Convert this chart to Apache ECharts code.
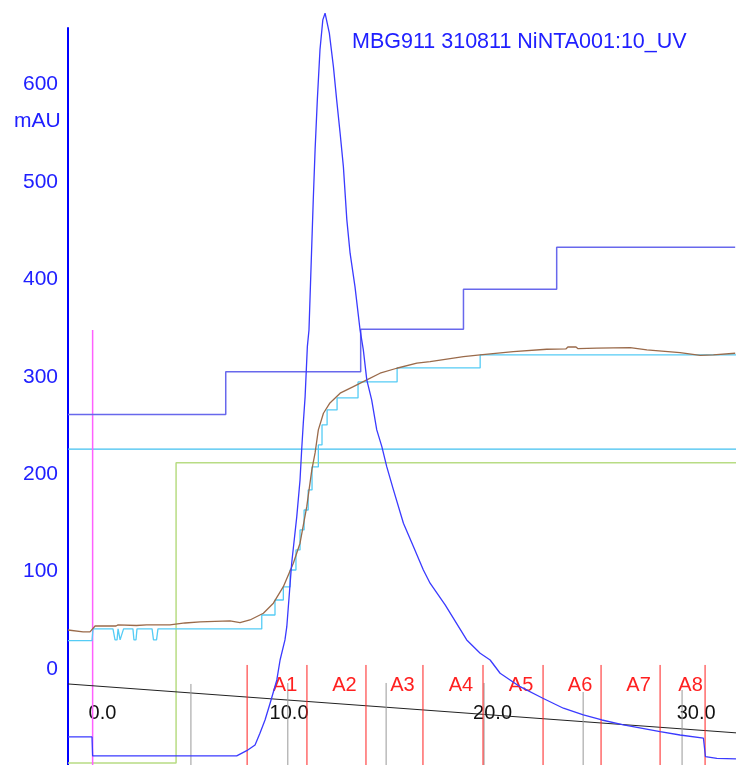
<!DOCTYPE html>
<html>
<head>
<meta charset="utf-8">
<script src="https://cdn.jsdelivr.net/npm/echarts@6/dist/echarts.min.js"></script>
<style>html,body{margin:0;padding:0;background:#fff}#c{width:736px;height:765px}</style>
</head>
<body>
<div id="c"></div>
<script>
// ---- data (x: ml, y: mAU) ----
const xMin = -0.86, xMax = 31.96;
const yMin = -98.6, yMax = 658;
const yTicks = [0, 100, 200, 300, 400, 500, 600];
const xTicks = [0, 10, 20, 30];

const uvCurve = [[-0.86,-69.8],[0.32,-69.8],[0.35,-89.3],[7.43,-89.3],[7.92,-83.9],[8.33,-78.0],[8.57,-66.0],[8.82,-52.4],[9.07,-35.2],[9.40,-11.3],[9.56,9.2],[9.80,29.8],[9.89,43.4],[10.13,108.5],[10.38,156.4],[10.54,194.0],[10.62,224.8],[10.70,252.3],[10.79,279.6],[10.90,330.9],[10.98,348.0],[11.19,481.5],[11.28,532.9],[11.39,584.2],[11.52,635.5],[11.66,666.3],[11.77,673.2],[11.85,673.2],[11.98,652.7],[12.18,618.4],[12.34,584.2],[12.51,550.0],[12.67,515.7],[12.84,461.0],[13.00,426.8],[13.24,392.5],[13.49,348.0],[13.65,327.5],[13.82,296.7],[14.06,276.2],[14.31,245.4],[14.56,228.2],[14.80,207.7],[15.13,183.8],[15.62,149.6],[16.11,125.6],[16.60,101.6],[16.93,88.0],[17.67,65.7],[18.73,29.8],[19.39,16.1],[19.88,9.2],[20.37,-4.4],[21.35,-18.2],[22.47,-30.1],[23.48,-40.3],[24.46,-47.2],[25.37,-52.4],[26.43,-57.5],[28.23,-64.4],[29.21,-67.8],[30.36,-71.1],[30.46,-90.0],[31.02,-91.7],[31.96,-92.4]];

const concStep = [[-0.86,261.1],[6.89,261.1],[6.89,305.2],[13.52,305.2],[13.52,348.8],[18.57,348.8],[18.57,389.8],[23.15,389.8],[23.15,433.0],[31.92,433.0]];

const condCurve = [[-0.86,40.0],[-0.12,38.0],[0.22,38.0],[0.47,44.1],[1.5,44.1],[1.6,45.2],[2.5,44.6],[3.0,45.2],[4.15,45.2],[4.89,47.2],[5.63,48.3],[7.10,49.3],[7.59,47.5],[8.08,50.3],[8.74,57.2],[9.23,67.5],[9.72,84.5],[10.21,108.5],[10.54,129.1],[10.87,166.6],[11.12,204.3],[11.28,221.8],[11.44,245.4],[11.69,262.5],[12.01,273.1],[12.51,283.1],[13.16,289.8],[13.82,296.7],[14.47,303.6],[15.29,308.7],[16.28,313.9],[16.93,315.5],[18.57,320.6],[19.39,322.4],[21.02,325.8],[22.66,328.2],[23.6,328.5],[23.7,330.5],[24.1,330.5],[24.2,328.8],[25.12,329.3],[26.76,329.9],[27.58,327.5],[29.21,324.7],[30.2,322.0],[30.85,322.4],[31.92,324.1]];

const cyanStep = [[-0.86,29.1],[0.32,29.1],[0.37,41.1],[1.35,41.1],[1.45,29.8],[1.55,29.8],[1.60,41.1],[1.65,41.1],[1.70,29.8],[1.79,29.8],[1.87,41.1],[2.33,41.1],[2.38,29.8],[2.48,29.8],[2.53,41.1],[3.27,41.1],[3.34,29.8],[3.49,29.8],[3.56,41.1],[8.66,41.1],[8.66,55.4],[9.31,55.4],[9.31,70.8],[9.72,70.8],[9.72,84.2],[10.05,84.2],[10.05,101.6],[10.34,101.6],[10.34,122.2],[10.54,122.2],[10.54,142.7],[10.74,142.7],[10.74,163.2],[10.94,163.2],[10.94,183.8],[11.13,183.8],[11.13,207.4],[11.44,207.4],[11.44,230.0],[11.62,230.0],[11.62,250.5],[11.87,250.5],[11.87,265.9],[12.36,265.9],[12.36,278.2],[13.39,278.2],[13.39,294.7],[15.31,294.7],[15.31,309.0],[19.39,309.0],[19.39,322.4],[31.96,322.4]];

const cyanFlat = [[-0.86,225.6],[31.96,225.6]];
const greenStep = [[-0.86,-96.5],[4.45,-96.5],[4.45,211.8],[31.96,211.8]];
const injectionMark = [[0.35,348],[0.35,yMin]];
const blackLine = [[-0.86,-15.4],[31.96,-65.6]];

const fractionBounds = [7.94,10.88,13.78,16.58,19.53,22.48,25.33,28.23,30.44];
const fractionLabels = ['A1','A2','A3','A4','A5','A6','A7','A8'];
const fractionTop = 4.1;
const fractionLabelY = -16.9;

const logMarks = [5.18, 9.94, 14.77, 19.58, 24.45, 29.31];
const logTops = [-15.4, -14.4, -14.4, -14.4, -23.6, -21.6];

const titleText = 'MBG911 310811 NiNTA001:10_UV';
const unitText = 'mAU';

// ---- chart ----
const FONT = '"Liberation Sans", Arial, sans-serif';
const chart = echarts.init(document.getElementById('c'), null, {renderer: 'canvas'});

function lineSeries(data, color, width, z) {
  return {type: 'line', data: data, symbol: 'none', clip: false, silent: true, z: z || 2,
    lineStyle: {color: color, width: width}, animation: false};
}

const fracLabelData = fractionLabels.map((l, i) => [(fractionBounds[i] + fractionBounds[i+1]) / 2, fractionLabelY, l]);

chart.setOption({
  animation: false,
  backgroundColor: '#ffffff',
  title: [
    {text: titleText, left: 352, top: 31, padding: 0, textStyle: {color: '#2020ff', fontSize: 21.5, fontWeight: 'normal', fontFamily: FONT}},
    {text: unitText, left: 14, top: 111, padding: 0, textStyle: {color: '#2020ff', fontSize: 21, fontWeight: 'normal', fontFamily: FONT}}
  ],
  grid: {left: 68, right: 0, top: 28, bottom: 0, containLabel: false},
  xAxis: {
    type: 'value', min: xMin, max: xMax,
    axisLine: {show: false}, axisTick: {show: false}, splitLine: {show: false},
    axisLabel: {inside: true, margin: 42, customValues: xTicks, color: '#111', fontSize: 20, fontFamily: FONT,
      formatter: v => v === 0 ? '{z|0.0}' : v.toFixed(1),
      rich: {z: {padding: [0, 0, 0, 34], fontSize: 20, fontFamily: FONT, color: '#111'}}}
  },
  yAxis: {
    type: 'value', min: yMin, max: yMax,
    axisLine: {show: true, onZero: false, lineStyle: {color: '#0000ff', width: 2}},
    axisTick: {show: false}, splitLine: {show: false},
    axisLabel: {customValues: yTicks, color: '#2020ff', fontSize: 21, fontFamily: FONT, margin: 10}
  },
  series: [
    lineSeries(greenStep, '#b8dc84', 1.5, 1),
    lineSeries(cyanFlat, '#40c0f0', 1.2, 1),
    lineSeries(injectionMark, '#ff60ff', 1.5, 1),
    lineSeries(concStep, '#6868ec', 1.5, 2),
    lineSeries(blackLine, '#222222', 1, 2),
    {
      type: 'custom', silent: true, z: 3, clip: false,
      data: logMarks.map((x, i) => [x, logTops[i], yMin]),
      renderItem: (params, api) => {
        const a = api.coord([api.value(0), api.value(1)]);
        const b = api.coord([api.value(0), api.value(2)]);
        return {type: 'line', shape: {x1: a[0], y1: a[1], x2: b[0], y2: b[1]}, style: {stroke: '#999999', lineWidth: 1}};
      }
    },
    {
      type: 'custom', silent: true, z: 4, clip: false,
      data: fractionBounds.map(x => [x, fractionTop, yMin]),
      renderItem: (params, api) => {
        const a = api.coord([api.value(0), api.value(1)]);
        const b = api.coord([api.value(0), api.value(2)]);
        return {type: 'line', shape: {x1: a[0], y1: a[1], x2: b[0], y2: b[1]}, style: {stroke: '#ff2020', lineWidth: 1}};
      }
    },
    {
      type: 'custom', silent: true, z: 5, clip: false,
      data: fracLabelData,
      dimensions: ['x', 'y', {name: 'label', type: 'ordinal'}],
      renderItem: (params, api) => {
        const c = api.coord([api.value(0), api.value(1)]);
        return {type: 'text', x: c[0] + 8, y: c[1],
          style: {text: fracLabelData[params.dataIndex][2], fill: '#ff2020', font: '20px ' + FONT, align: 'center', verticalAlign: 'middle'}};
      }
    },
    lineSeries(cyanStep, '#55ccf5', 1.3, 6),
    lineSeries(condCurve, '#9a6a4a', 1.3, 7),
    lineSeries(uvCurve, '#3a3aff', 1.3, 8)
  ]
});
</script>
</body>
</html>
